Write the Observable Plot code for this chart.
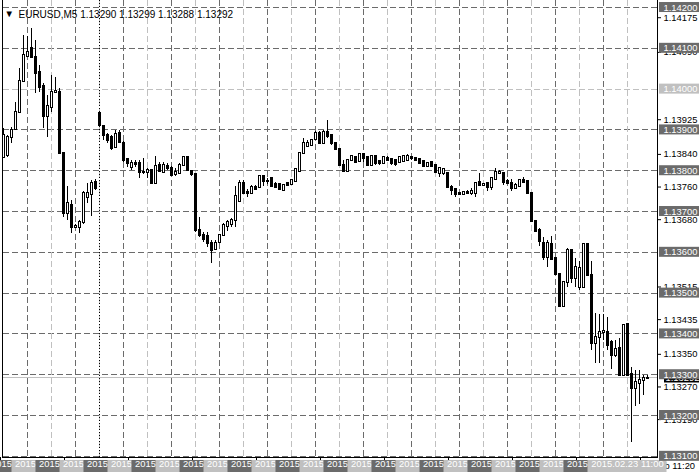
<!DOCTYPE html>
<html><head><meta charset="utf-8">
<script src="https://cdn.jsdelivr.net/npm/d3@7"></script>
<script src="https://cdn.jsdelivr.net/npm/@observablehq/plot@0.6"></script>
<style>
html,body{margin:0;padding:0;background:#fff;}
#chart svg{display:block;}
</style></head><body><div id="chart"></div>
<script>
const symbol = "EURUSD,M5";
const opens = [
1.13832,1.13837,1.13881,1.13901,1.13943,1.14019,1.14080,1.14099,1.14077,1.14041,
1.14006,1.13933,1.13955,1.13992,1.13992,1.13842,1.13695,1.13715,1.13661,1.13661,
1.13673,1.13734,1.13742,1.13771,1.13940,1.13908,1.13886,1.13881,1.13857,1.13891,
1.13867,1.13827,1.13808,1.13818,1.13818,1.13796,1.13796,1.13800,1.13769,1.13813,
1.13796,1.13810,1.13805,1.13791,1.13793,1.13813,1.13832,1.13798,1.13791,1.13653,
1.13641,1.13639,1.13622,1.13607,1.13624,1.13641,1.13663,1.13668,1.13678,1.13725,
1.13769,1.13747,1.13744,1.13759,1.13759,1.13786,1.13774,1.13781,1.13766,1.13766,
1.13751,1.13769,1.13766,1.13774,1.13798,1.13842,1.13859,1.13862,1.13876,1.13891,
1.13867,1.13894,1.13886,1.13867,1.13852,1.13813,1.13798,1.13825,1.13832,1.13823,
1.13840,1.13832,1.13813,1.13835,1.13823,1.13818,1.13830,1.13827,1.13825,1.13820,
1.13823,1.13825,1.13832,1.13830,1.13827,1.13823,1.13810,1.13820,1.13813,1.13793,
1.13793,1.13793,1.13759,1.13754,1.13744,1.13742,1.13747,1.13744,1.13744,1.13771,
1.13764,1.13769,1.13759,1.13778,1.13793,1.13793,1.13774,1.13769,1.13756,1.13761,
1.13776,1.13774,1.13744,1.13676,1.13653,1.13622,1.13587,1.13619,1.13585,1.13546,
1.13467,1.13526,1.13604,1.13536,1.13514,1.13514,1.13619,1.13543,1.13377,1.13391,
1.13404,1.13404,1.13379,1.13347,1.13364,1.13298,1.13423,1.13301,1.13266,1.13279,
1.13284,1.13290];
const highs = [
1.13903,1.13886,1.13906,1.13967,1.14050,1.14131,1.14129,1.14148,1.14119,1.14058,
1.14014,1.13984,1.14033,1.14028,1.14001,1.13842,1.13761,1.13727,1.13668,1.13678,
1.13749,1.13769,1.13776,1.13778,1.13945,1.13911,1.13891,1.13886,1.13898,1.13898,
1.13872,1.13830,1.13825,1.13825,1.13825,1.13830,1.13805,1.13803,1.13835,1.13820,
1.13820,1.13818,1.13810,1.13805,1.13818,1.13835,1.13835,1.13800,1.13791,1.13685,
1.13649,1.13649,1.13629,1.13629,1.13644,1.13671,1.13678,1.13683,1.13761,1.13776,
1.13776,1.13754,1.13764,1.13764,1.13788,1.13788,1.13781,1.13783,1.13771,1.13769,
1.13766,1.13771,1.13778,1.13805,1.13845,1.13879,1.13874,1.13876,1.13896,1.13896,
1.13898,1.13923,1.13889,1.13869,1.13854,1.13825,1.13827,1.13837,1.13835,1.13842,
1.13842,1.13835,1.13837,1.13837,1.13825,1.13835,1.13835,1.13830,1.13827,1.13835,
1.13837,1.13840,1.13835,1.13832,1.13830,1.13825,1.13820,1.13823,1.13815,1.13808,
1.13805,1.13796,1.13764,1.13756,1.13747,1.13749,1.13751,1.13756,1.13771,1.13793,
1.13769,1.13771,1.13783,1.13805,1.13800,1.13796,1.13778,1.13778,1.13769,1.13778,
1.13783,1.13776,1.13747,1.13676,1.13658,1.13636,1.13629,1.13639,1.13587,1.13546,
1.13529,1.13609,1.13607,1.13585,1.13578,1.13622,1.13622,1.13578,1.13450,1.13448,
1.13448,1.13440,1.13384,1.13384,1.13389,1.13423,1.13426,1.13318,1.13310,1.13310,
1.13298,1.13299];
const lows = [
1.13830,1.13832,1.13867,1.13898,1.13940,1.14016,1.14077,1.14075,1.13989,1.13992,
1.13903,1.13881,1.13943,1.13989,1.13842,1.13685,1.13678,1.13646,1.13658,1.13646,
1.13668,1.13720,1.13688,1.13751,1.13908,1.13874,1.13867,1.13849,1.13854,1.13867,
1.13820,1.13808,1.13800,1.13808,1.13781,1.13791,1.13781,1.13769,1.13766,1.13796,
1.13793,1.13800,1.13786,1.13786,1.13791,1.13810,1.13798,1.13786,1.13649,1.13636,
1.13624,1.13612,1.13573,1.13604,1.13622,1.13639,1.13651,1.13661,1.13661,1.13722,
1.13742,1.13734,1.13742,1.13751,1.13756,1.13761,1.13766,1.13759,1.13756,1.13751,
1.13749,1.13761,1.13764,1.13771,1.13796,1.13840,1.13857,1.13859,1.13874,1.13864,
1.13864,1.13879,1.13862,1.13849,1.13810,1.13796,1.13796,1.13823,1.13818,1.13820,
1.13820,1.13810,1.13810,1.13813,1.13813,1.13815,1.13823,1.13813,1.13810,1.13818,
1.13820,1.13823,1.13825,1.13823,1.13815,1.13808,1.13808,1.13808,1.13793,1.13783,
1.13788,1.13756,1.13739,1.13734,1.13739,1.13739,1.13742,1.13739,1.13734,1.13761,
1.13761,1.13749,1.13751,1.13776,1.13791,1.13764,1.13766,1.13749,1.13754,1.13759,
1.13769,1.13742,1.13673,1.13649,1.13614,1.13580,1.13563,1.13580,1.13543,1.13465,
1.13465,1.13514,1.13524,1.13514,1.13506,1.13511,1.13541,1.13359,1.13328,1.13328,
1.13384,1.13359,1.13313,1.13342,1.13296,1.13296,1.13296,1.13134,1.13222,1.13227,
1.13249,1.13288];
const closes = [
1.13886,1.13881,1.13898,1.13943,1.14019,1.14082,1.14090,1.14077,1.14038,1.14004,
1.13933,1.13957,1.13992,1.13994,1.13842,1.13695,1.13720,1.13661,1.13663,1.13673,
1.13744,1.13744,1.13769,1.13756,1.13911,1.13886,1.13874,1.13854,1.13889,1.13869,
1.13825,1.13818,1.13818,1.13815,1.13796,1.13796,1.13800,1.13769,1.13810,1.13798,
1.13813,1.13805,1.13788,1.13796,1.13813,1.13832,1.13800,1.13791,1.13653,1.13641,
1.13631,1.13622,1.13604,1.13622,1.13641,1.13666,1.13673,1.13678,1.13737,1.13769,
1.13744,1.13744,1.13759,1.13754,1.13786,1.13774,1.13775,1.13761,1.13759,1.13754,
1.13764,1.13764,1.13776,1.13803,1.13842,1.13867,1.13867,1.13874,1.13891,1.13867,
1.13894,1.13884,1.13867,1.13852,1.13813,1.13798,1.13825,1.13835,1.13820,1.13840,
1.13830,1.13813,1.13835,1.13818,1.13818,1.13832,1.13825,1.13818,1.13815,1.13832,
1.13835,1.13835,1.13830,1.13825,1.13818,1.13810,1.13818,1.13810,1.13796,1.13805,
1.13803,1.13759,1.13751,1.13742,1.13742,1.13747,1.13744,1.13749,1.13769,1.13764,
1.13766,1.13759,1.13781,1.13796,1.13796,1.13771,1.13769,1.13756,1.13764,1.13776,
1.13771,1.13744,1.13676,1.13651,1.13627,1.13587,1.13622,1.13582,1.13546,1.13467,
1.13526,1.13604,1.13536,1.13563,1.13560,1.13619,1.13543,1.13377,1.13391,1.13404,
1.13406,1.13372,1.13347,1.13362,1.13298,1.13421,1.13298,1.13266,1.13281,1.13286,
1.13291,1.13292];

// horizontal line objects (price levels) and their axis labels
const levels = [1.142, 1.141, 1.140, 1.139, 1.138, 1.137, 1.136, 1.135, 1.134, 1.133, 1.132, 1.131];
const lightLevel = 1.140;
const priceTicks = [1.14175, 1.14090, 1.13925, 1.13840, 1.13760, 1.13680, 1.13515, 1.13435, 1.13350, 1.13270, 1.13190];

// vertical line objects (bar index) and their labels
const vLineBars = [6,12,18,24,30,36,42,48,54,60,66,72,78,84,90,96,102,108,114,120,126,132,138,144,150,156];
const vLineLabels = [
"2015.02.20 22:30","2015.02.20 23:00","2015.02.20 23:30","2015.02.23 00:00","2015.02.23 00:30",
"2015.02.23 01:00","2015.02.23 01:30","2015.02.23 02:00","2015.02.23 02:30","2015.02.23 03:00",
"2015.02.23 03:30","2015.02.23 04:00","2015.02.23 04:30","2015.02.23 05:00","2015.02.23 05:30",
"2015.02.23 06:00","2015.02.23 06:30","2015.02.23 07:00","2015.02.23 07:30","2015.02.23 08:00",
"2015.02.23 08:30","2015.02.23 09:00","2015.02.23 09:30","2015.02.23 10:00","2015.02.23 10:30",
"2015.02.23 11:00"];
const separatorBar = 24;
const timeTickBars = [0,16,32,48,64,80,96,112,128,144,160];
const timeTickLabels = ["20 Feb 22:00","20 Feb 23:20","23 Feb 00:40","23 Feb 02:00","23 Feb 03:20",
"23 Feb 04:40","23 Feb 06:00","23 Feb 07:20","23 Feb 08:40","23 Feb 10:00","23 Feb 11:20"];

const dark = "#6b6b6b", light = "#c0c0c0";
const fmt = d3.format(".5f");
const FS = 9.4;
const bars = opens.map((o, i) => ({i, o, h: highs[i], l: lows[i], c: closes[i]}));
const last = bars[bars.length - 1];

const marks = [];
// line objects
marks.push(Plot.ruleY(levels, {y: d => d, stroke: d => d === lightLevel ? light : dark, strokeDasharray: "6,3", insetLeft: 3, shapeRendering: "crispEdges"}));
marks.push(Plot.ruleX(vLineBars, {x: d => d, stroke: (d, k) => k % 2 ? light : dark, strokeDasharray: "6,3", shapeRendering: "crispEdges"}));
marks.push(Plot.ruleX([separatorBar], {x: d => d, stroke: "black", strokeDasharray: "1,2", shapeRendering: "crispEdges"}));
// bid line
marks.push(Plot.ruleY([last.c], {y: d => d, stroke: light, insetLeft: 3, shapeRendering: "crispEdges"}));
// candles
marks.push(Plot.ruleX(bars, {x: "i", y1: "l", y2: "h", stroke: "black", shapeRendering: "crispEdges"}));
marks.push(Plot.rect(bars, {x1: d => d.i - 0.25, x2: d => d.i + 0.25, y1: "o", y2: "c",
  fill: d => d.c >= d.o ? "white" : "black", stroke: "black", insetTop: -0.25, insetBottom: -0.25, shapeRendering: "crispEdges"}));
// chart frame
marks.push(Plot.frame({stroke: "black", insetLeft: 2, insetTop: -2, shapeRendering: "crispEdges"}));
// time axis
marks.push(Plot.axisX(timeTickBars, {anchor: "bottom", tickSize: 4, tickPadding: 1, textAnchor: "start", dx: -3,
  tickFormat: d => timeTickLabels[timeTickBars.indexOf(d)], fontSize: FS, label: null, fill: "black"}));
// vertical line labels, drawn in order so each covers the previous one
vLineBars.forEach((b, k) => {
  const bg = k % 2 ? light : dark;
  marks.push(Plot.rect([b], {x1: d => d, x2: d => d, insetLeft: -39.5, insetRight: -39.5, insetTop: 460, insetBottom: -15, fill: bg}));
  marks.push(Plot.text([b], {x: d => d, frameAnchor: "bottom", dy: 9.5, text: () => vLineLabels[k], fill: "white", fontSize: FS, textAnchor: "middle"}));
});
// current price label (black), price axis, level labels
marks.push(Plot.rect([last.c], {y1: d => d, y2: d => d, insetTop: -5, insetBottom: -5, insetLeft: 664, insetRight: -42, fill: "black"}));
marks.push(Plot.text([last.c], {y: d => d, frameAnchor: "right", dx: 8, textAnchor: "start", text: d => fmt(d), fill: "white", fontSize: FS}));
marks.push(Plot.axisY(priceTicks, {anchor: "right", tickSize: 3, tickPadding: 3, tickFormat: fmt, fontSize: FS, label: null, fill: "black"}));
marks.push(Plot.rect(levels, {y1: d => d, y2: d => d, insetTop: -5, insetBottom: -5, insetLeft: 659, insetRight: -42,
  fill: d => d === lightLevel ? light : dark}));
marks.push(Plot.text(levels, {y: d => d, frameAnchor: "right", dx: 6, textAnchor: "start", text: d => fmt(d), fill: "white", fontSize: FS}));
// header
marks.push(Plot.text(["▼"], {frameAnchor: "top-left", dx: 4, dy: 10, text: d => d, fill: "black", fontSize: 9.5, textAnchor: "start"}));
marks.push(Plot.text([symbol + " " + [last.o, last.h, last.l, last.c].map(fmt).join(" ")],
  {frameAnchor: "top-left", dx: 18, dy: 10, text: d => d, fill: "black", fontSize: 10, textAnchor: "start"}));

const chart = Plot.plot({
  width: 699, height: 475,
  marginLeft: 0, marginRight: 42, marginTop: 0, marginBottom: 18,
  x: {domain: [-0.75, 163.5], axis: null},
  y: {domain: [1.130971, 1.142172], axis: null},
  style: {fontFamily: "'Liberation Sans', Arial, sans-serif", background: "white", overflow: "visible"},
  marks
});
document.getElementById("chart").appendChild(chart);
</script></body></html>
